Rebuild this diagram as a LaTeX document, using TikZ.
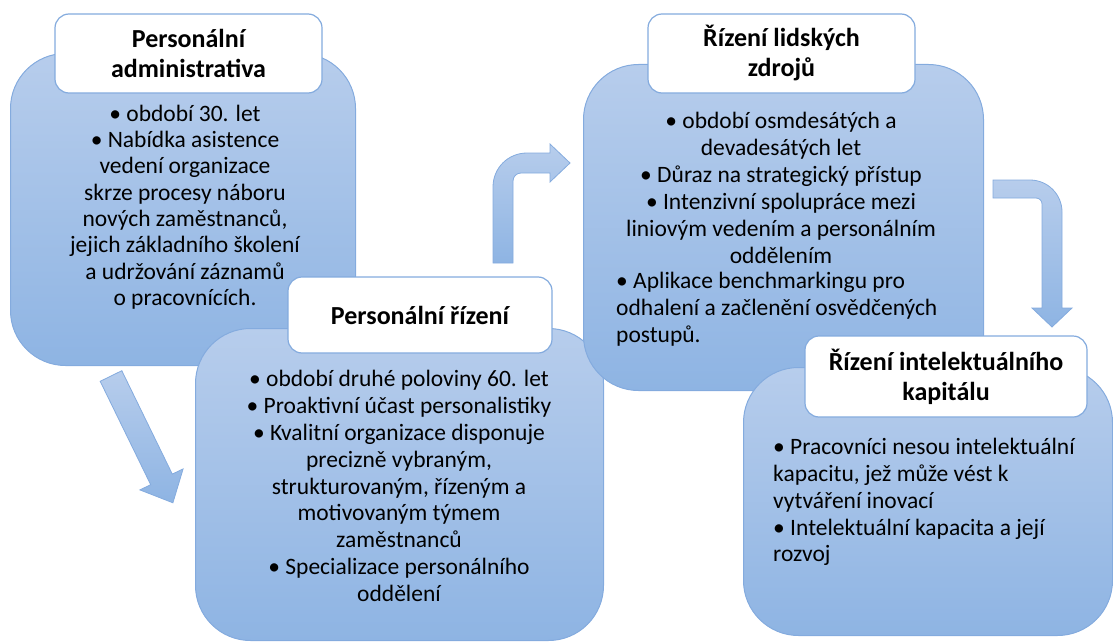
\documentclass[tikz,border=0pt]{standalone}
\usepackage{fontspec}
\setmainfont{Carlito}
\definecolor{boxtop}{RGB}{183,205,236}
\definecolor{boxbot}{RGB}{142,180,227}
\definecolor{boxline}{RGB}{132,171,222}
\begin{document}
\begin{tikzpicture}[x=1pt,y=-1pt,
  bigbox/.style={draw=boxline,line width=1pt,top color=boxtop,bottom color=boxbot,rounded corners=55pt,anchor=north west,inner sep=0pt},
  titlebox/.style={draw=boxline,line width=1.2pt,fill=white,rounded corners=14pt,align=center,inner sep=0pt,font=\bfseries\fontsize{26}{30}\selectfont},
  bodytext/.style={align=center,inner sep=0pt,font=\fontsize{23.5}{26.9}\selectfont},
  bodyleft/.style={bodytext,align=left,anchor=west},
  blockarrow/.style={draw=boxline,line width=.8pt,top color=boxtop,bottom color=boxbot,line join=miter}]
\useasboundingbox (0,0) rectangle (1113,642);
% boxes and their titles
\foreach \nm/\x/\y/\w/\h/\tx/\ty/\tw/\th/\ttl in {
 admin/10/53/345/312/188.5/53.5/267/79/{Personální\\administrativa},
 rizeni/195/328/408/312/420/315/264/76/{Personální řízení},
 lidske/583/64/400/326/781.5/53.5/267/79/{Řízení lidských\\zdrojů},
 kapital/743/367/369/268/946/376.5/282/81/{Řízení intelektuálního\\kapitálu}}
{\node[bigbox,minimum width=\w pt,minimum height=\h pt] (\nm) at (\x,\y) {};
 \node[titlebox,minimum width=\tw pt,minimum height=\th pt] (\nm-title) at (\tx,\ty) {\ttl};}
% texts
\node[bodytext,font=\fontsize{23.5}{26.3}\selectfont] (admin-text) at (185,207) {• období 30. let\\• Nabídka asistence\\vedení organizace\\skrze procesy náboru\\nových zaměstnanců,\\jejich základního školení\\a udržování záznamů\\o pracovnících.};
\node[bodytext] (rizeni-text) at (399,486) {• období druhé poloviny 60. let\\• Proaktivní účast personalistiky\\• Kvalitní organizace disponuje\\precizně vybraným,\\strukturovaným, řízeným a\\motivovaným týmem\\zaměstnanců\\• Specializace personálního\\oddělení};
\node[bodytext] (lidske-text) at (781,188) {• období osmdesátých a\\devadesátých let\\• Důraz na strategický přístup\\• Intenzivní spolupráce mezi\\liniovým vedením a personálním\\oddělením};
\node[bodyleft] (lidske-more) at (616,309.5) {• Aplikace benchmarkingu pro\\odhalení a začlenění osvědčených\\postupů.};
\node[bodyleft] (kapital-text) at (773,502) {• Pracovníci nesou intelektuální\\kapacitu, jež může vést k\\vytváření inovací\\• Intelektuální kapacita a její\\rozvoj};
% arrows
\draw[blockarrow] (121.8,370.7) -- (172.3,474.1) -- (183.1,468.9) -- (172.9,502.8)
  -- (139.9,489.9) -- (150.7,484.7) -- (100.2,381.3) -- cycle;
\draw[blockarrow] (493,263) -- (493,187) .. controls (493,168) and (508,153) .. (527,153)
  -- (550,153) -- (550,144) -- (570,163) -- (550,182) -- (550,173) -- (521,173)
  .. controls (516.6,173) and (513,176.6) .. (513,181) -- (513,263) -- cycle;
\draw[blockarrow] (993,180) -- (1030,180) .. controls (1047.7,180) and (1062,194.3) .. (1062,212)
  -- (1062,308) -- (1072,308) -- (1052,327) -- (1032,308) -- (1042,308) -- (1042,204)
  .. controls (1042,200.7) and (1039.3,198) .. (1036,198) -- (993,198) -- cycle;
\end{tikzpicture}
\end{document}
